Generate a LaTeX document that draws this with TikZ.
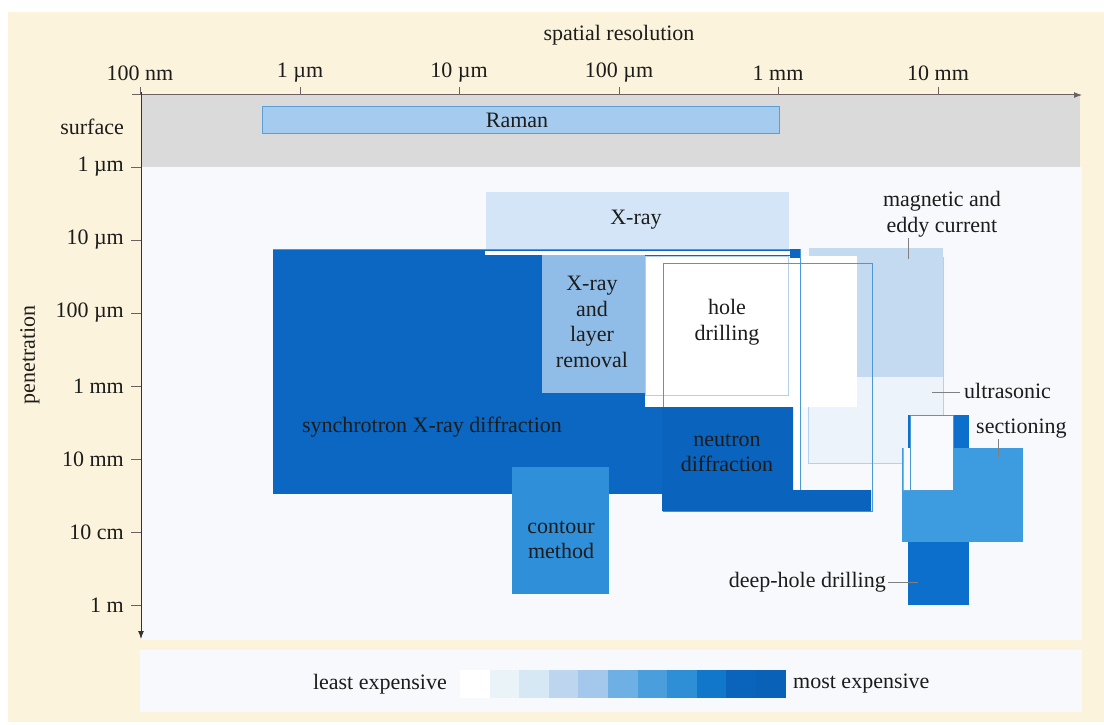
\documentclass[tikz,border=0pt]{standalone}
\usepackage{fontspec}
\setmainfont{Liberation Serif}
\usetikzlibrary{arrows.meta}
\definecolor{cream}{HTML}{FBF3DC}
\definecolor{plotbg}{HTML}{F7F9FC}
\definecolor{greyband}{HTML}{DADADA}
\definecolor{txt}{HTML}{1C1C1C}
\definecolor{axiscol}{HTML}{6E6065}
\definecolor{ramanfill}{HTML}{A5CBEF}
\definecolor{ramanline}{HTML}{5B9FD8}
\definecolor{xrayfill}{HTML}{D3E5F6}
\definecolor{synchro}{HTML}{0B67C2}
\definecolor{layerfill}{HTML}{8FBDE8}
\definecolor{neutron}{HTML}{0A63BC}
\definecolor{contour}{HTML}{2F8FD8}
\definecolor{magnetic}{HTML}{C3DAF1}
\definecolor{ultra}{HTML}{EDF3FA}
\definecolor{section}{HTML}{3D9BE0}
\definecolor{deephole}{HTML}{0B6FCB}
\definecolor{outl}{HTML}{4A98D6}
\definecolor{faint}{HTML}{B5D0EA}
\definecolor{leader}{HTML}{808080}
\definecolor{lg0}{HTML}{FFFFFF}
\definecolor{lg1}{HTML}{EAF4F8}
\definecolor{lg2}{HTML}{D6E8F4}
\definecolor{lg3}{HTML}{BDD5EF}
\definecolor{lg4}{HTML}{A4C8EC}
\definecolor{lg5}{HTML}{6EB0E3}
\definecolor{lg6}{HTML}{4A9EDC}
\definecolor{lg7}{HTML}{2E8ED6}
\definecolor{lg8}{HTML}{1177CB}
\definecolor{lg9}{HTML}{0A64BC}
\definecolor{lg10}{HTML}{0A62B8}
\begin{document}
\begin{tikzpicture}[x=1pt,y=-1pt,
  lbl/.style={font=\fontsize{22}{25.5}\selectfont, text=txt, inner sep=0pt, align=center},
  tick/.style={draw=axiscol, line width=0.8pt},
  leaderline/.style={draw=leader, line width=0.7pt},
  thinout/.style={line width=0.8pt}]
\useasboundingbox (0,0) rectangle (1104,725);
\fill[white] (0,0) rectangle (1104,725);
\fill[cream] (8,12) rectangle (1104,722);
% panels
\fill[greyband] (141,95) rectangle (1080,167);
\fill[plotbg] (141,167) rectangle (1082,640);
\fill[plotbg] (140,650) rectangle (1082,712);
% Raman
\draw[fill=ramanfill, draw=ramanline, thinout] (262,106) rectangle (779,133);
\node[lbl] (raman) at (517,120) {Raman};
% X-ray
\fill[xrayfill] (486,192) rectangle (789,249);
\node[lbl] (xray) at (636,220) {X-ray};
% ultrasonic and magnetic
\draw[fill=ultra, draw=faint, thinout] (808,257) rectangle (943,463);
\fill[magnetic] (809,248) rectangle (943,377);
% synchrotron
\fill[synchro] (273,249) rectangle (793,494);
\fill[layerfill] (542,255) rectangle (645,393);
\fill[white] (485,251) rectangle (790,255);
% hole drilling region
\fill[white] (645,256) rectangle (857,407);
\fill[white] (793,407) rectangle (800,490);
\draw[faint, thinout] (645,256) rectangle (788,395);
\draw[outl, thinout] (273,249) -- (800,249) -- (800,490);
\fill[synchro] (790,249) rectangle (800,258);
% neutron
\draw[outl, thinout] (663,263) rectangle (872,511);
\fill[neutron] (662,407) -- (793,407) -- (793,490) -- (871,490) -- (871,511) -- (662,511) -- cycle;
% contour
\fill[contour] (512,467) rectangle (609,594);
% deep hole, sectioning
\fill[deephole] (908,415) rectangle (969,605);
\fill[section] (902,448) rectangle (1023,542);
\fill[white!60!ultra] (910,415) -- (953,415) -- (953,490) -- (903,490) -- (903,448) -- (910,448) -- cycle;
\draw[outl, thinout] (910,415) rectangle (953,490);
\draw[outl!70!white, thinout] (903,448) -- (903,490);
% labels
\node[lbl] (xlr) at (592,322) {X-ray\\and\\layer\\removal};
\node[lbl] (hd) at (727,322) {hole\\drilling};
\node[lbl] (sx) at (432,427) {synchrotron X-ray diffraction};
\node[lbl] (nd) at (727,453) {neutron\\diffraction};
\node[lbl] (cm) at (561,540) {contour\\method};
\node[lbl] (mag) at (942,214) {magnetic and\\eddy current};
\node[lbl, anchor=west] (us) at (964,391) {ultrasonic};
\node[lbl, anchor=west] (sec) at (976,429) {sectioning};
\node[lbl, anchor=east] (dhd) at (886,582) {deep-hole drilling};
\coordinate (magend) at (908,259);
\coordinate (usend) at (932,392);
\coordinate (secend) at (998,457);
\coordinate (dhdend) at (918,582);
\draw[leaderline] (908,238) -- (magend);
\draw[leaderline] (960,392) -- (usend);
\draw[leaderline] (998,439) -- (secend);
\draw[leaderline] (888,582) -- (dhdend);
% axes
\draw[axiscol, line width=1pt, -{Latex[length=8pt,width=6pt]}] (132,95) -- (1082,95);
\draw[black!80, line width=1pt, -{Latex[length=8pt,width=6pt]}] (141,92) -- (141,639);
\foreach \x/\t in {140/100 nm, 300/1 µm, 459/10 µm, 619/100 µm, 778/1 mm, 938/10 mm}{
  \draw[tick] (\x,87) -- (\x,95);
  \node[lbl] at (\x,73) {\t};
}
\foreach \y/\t in {167/1 µm, 240/10 µm, 313/100 µm, 386/1 mm, 459/10 mm, 532/10 cm, 605/1 m}{
  \draw[tick] (131,\y) -- (141,\y);
  \node[lbl, anchor=east] at (124,\y) {\t};
}
\node[lbl, anchor=east] (surf) at (124,127) {surface};
\node[lbl] (sr) at (619,35) {spatial resolution};
\node[lbl, rotate=90] (pen) at (30,355) {penetration};
% legend
\foreach \i in {0,...,10}{
  \fill[lg\i] ({460+\i*29.6},670) rectangle ({460+(\i+1)*29.6+0.3},698);
}
\node[lbl, anchor=east] (least) at (447,684) {least expensive};
\node[lbl, anchor=west] (most) at (793,684) {most expensive};
\end{tikzpicture}
\end{document}
